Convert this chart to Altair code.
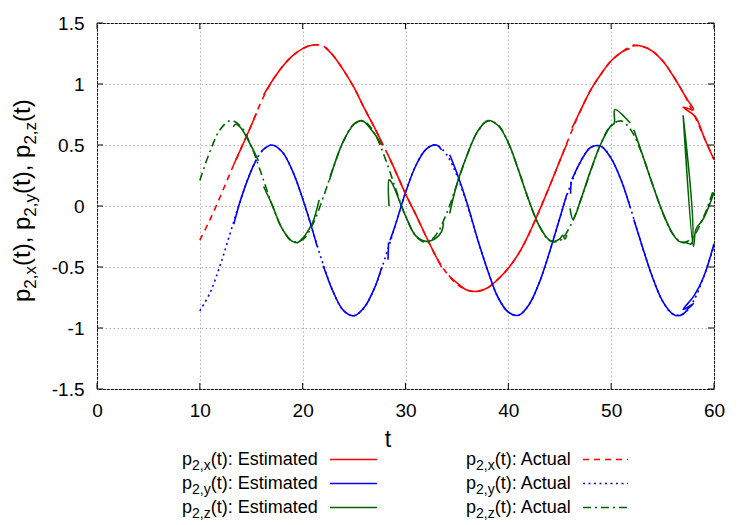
import altair as alt
import pandas as pd

# ---------------- data ----------------
t_actual = list(range(10, 61))
px_actual = [-0.28, -0.11, 0.08, 0.28, 0.47, 0.66, 0.86, 1.02, 1.14, 1.23,
             1.29, 1.32, 1.31, 1.23, 1.11, 0.97, 0.80, 0.64, 0.47, 0.29,
             0.10, -0.07, -0.25, -0.42, -0.55, -0.64, -0.69, -0.70, -0.67, -0.60,
             -0.51, -0.39, -0.23, -0.04, 0.16, 0.37, 0.58, 0.78, 0.95, 1.08,
             1.19, 1.26, 1.31, 1.31, 1.27, 1.19, 1.07, 0.93, 0.76, 0.57, 0.38]
py_actual = [-0.86, -0.71, -0.48, -0.21, 0.06, 0.29, 0.445, 0.50, 0.445, 0.29,
             0.06, -0.21, -0.48, -0.71, -0.86, -0.90, -0.83, -0.67, -0.43, -0.16,
             0.11, 0.33, 0.465, 0.50, 0.42, 0.25, 0.01, -0.27, -0.53, -0.75,
             -0.87, -0.895, -0.81, -0.63, -0.38, -0.10, 0.16, 0.36, 0.48, 0.49,
             0.39, 0.205, -0.05, -0.325, -0.58, -0.78, -0.886, -0.886, -0.78, -0.58, -0.325]
pz_actual = [0.21, 0.45, 0.63, 0.70, 0.65, 0.49, 0.26, 0.015, -0.185, -0.29,
             -0.276, -0.146, 0.07, 0.32, 0.536, 0.673, 0.693, 0.593, 0.396, 0.152,
             -0.08, -0.245, -0.30, -0.233, -0.06, 0.177, 0.42, 0.608, 0.697, 0.664,
             0.516, 0.293, 0.045, -0.163, -0.284, -0.285, -0.168, 0.04, 0.286, 0.511,
             0.661, 0.697, 0.612, 0.426, 0.184, -0.053, -0.229, -0.30, -0.248, -0.087, 0.144]

# estimated series (None = gap in the estimate)
t_est_x = [13.3, 14, 15, 15.5, None, 16.2, 17, 18, 19, 20, 21, 21.5, None,
           22.2, 23, 24, 25, 26, 27, 27.7, None, 28.3, 29, 30, 31, 32, 33, 33.5, None,
           34.2, 35, 36, 37, 38, 39, 40, 41, 42, 43, 44, 45, 45.7, None,
           46.2, 47, 48, 49, 50, 51, 51.8, None,
           52.1, 53, 54, 55, 56, 57, 57.5, 58.0, 57.0, 58.2, 59, 60]
px_est = [0.34, 0.47, 0.66, 0.76, None, 0.91, 1.02, 1.14, 1.23, 1.29, 1.32, 1.32, None,
          1.30, 1.23, 1.11, 0.97, 0.80, 0.64, 0.52, None, 0.42, 0.29, 0.10, -0.07, -0.25, -0.42, -0.50, None,
          -0.57, -0.63, -0.69, -0.70, -0.67, -0.60, -0.51, -0.39, -0.23, -0.04, 0.16, 0.37, 0.51, None,
          0.64, 0.78, 0.95, 1.08, 1.19, 1.26, 1.29, None,
          1.32, 1.31, 1.27, 1.19, 1.07, 0.93, 0.86, 0.79, 0.81, 0.73, 0.57, 0.38]

t_est_y = [13.3, 14, 15, 15.5, None, 16.0, 17, 18, 19, 20, 21, 21.4, None,
           22.0, 23, 24, 25, 26, 27, 27.7, None, 28.3, 28.35, None,
           28.5, 29, 30, 31, 32, 33, 33.5, None,
           34.3, 35, 36, 37, 38, 39, 40, 41, 42, 43, 44, 45, 45.7, None,
           46.05, 46.1, None, 46.2, 47, 48, 49, 50, 51, 51.85, None,
           52.2, 53, 54, 55, 56, 56.5, 57, 57.5, 58.0, 57.0, 58.1, 59, 60]
py_est = [-0.15, 0.06, 0.29, 0.38, None, 0.45, 0.50, 0.445, 0.29, 0.06, -0.21, -0.33, None,
          -0.49, -0.71, -0.86, -0.90, -0.83, -0.67, -0.50, None, -0.44, -0.30, None,
          -0.28, -0.16, 0.11, 0.33, 0.465, 0.50, 0.46, None,
          0.42, 0.27, 0.02, -0.27, -0.53, -0.75, -0.87, -0.895, -0.81, -0.63, -0.38, -0.10, 0.10, None,
          0.10, 0.20, None, 0.22, 0.36, 0.48, 0.49, 0.39, 0.205, -0.01, None,
          -0.11, -0.325, -0.58, -0.78, -0.886, -0.90, -0.885, -0.84, -0.80, -0.85, -0.73, -0.58, -0.31]

t_est_z = [13.25, 13.5, 14, 15, 15.7, None,
           16.2, 17, 18, 19, 19.5, 20, 20.4, 21.0, 21.6, None,
           22.6, 23, 24, 25, 25.7, 26, 27, 27.7, None,
           28.4, 28.4, 28.6, 29, 29.5, 30, 31, 32, 33, 33.5, 33.7, None,
           34.3, 35, 36, 37, 38, 39, 40, 41, 42, 43, 44, 44.5, 45, 45.3, 45.5, 45.7, None,
           46.0, 46.3, 47, 48, 49, 49.9, 50.3, 50.35, 51.85, None,
           52.2, 53, 54, 55, 56, 56.6, 57.3, 57.8, 57.0, 58.0, 58.25, 59, 60]
pz_est = [0.65, 0.67, 0.64, 0.49, 0.37, None,
          0.16, 0.015, -0.185, -0.29, -0.30, -0.265, -0.22, -0.13, 0.05, None,
          0.21, 0.32, 0.54, 0.67, 0.70, 0.69, 0.59, 0.50, None,
          0.0, 0.216, 0.20, 0.13, 0.02, -0.08, -0.245, -0.29, -0.26, -0.21, -0.14, None,
          -0.06, 0.18, 0.42, 0.61, 0.70, 0.66, 0.52, 0.29, 0.045, -0.16, -0.28, -0.29, -0.27, -0.24, -0.27, -0.24, None,
          -0.02, -0.11, 0.04, 0.29, 0.51, 0.65, 0.68, 0.79, 0.68, None,
          0.625, 0.43, 0.18, -0.05, -0.23, -0.29, -0.30, -0.31, 0.74, -0.33, -0.19, -0.10, 0.11]

x_ticks = [0, 10, 20, 30, 40, 50, 60]
y_ticks = [-1.5, -1, -0.5, 0, 0.5, 1, 1.5]
components = ["x", "y", "z"]
legend_kinds = ["Estimated", "Actual"]

# ---------------- styling / layout ----------------
FONT = "Liberation Sans"
RED, BLUE, GREEN = "#ff0000", "#0000ff", "#006400"
COLORS = [RED, BLUE, GREEN]
DASHES = [[6, 5], [2, 3.5], [8, 4, 2, 4]]
LW = 1.6
W, H = 617, 366
OX, OY = 97, 23          # page position of the plot origin

ARIAL = {" ": 278, "(": 333, ")": 333, ",": 278, ":": 278, "2": 556, "A": 667,
         "E": 667, "a": 556, "c": 500, "d": 556, "e": 556, "i": 222, "l": 222,
         "m": 833, "p": 556, "s": 500, "t": 278, "u": 556, "x": 500, "y": 500, "z": 500}


def tw(s, size):
    return sum(ARIAL.get(c, 556) for c in s) / 1000.0 * size


def est_frame(ts, vs):
    rows, seg, i = [], 0, 0
    for t, v in zip(ts, vs):
        if t is None or v is None:
            seg += 1
            continue
        rows.append({"t": t, "v": v, "seg": seg, "i": i})
        i += 1
    return pd.DataFrame(rows)


xs = alt.Scale(domain=[0, 60], nice=False, zero=False)
ys = alt.Scale(domain=[-1.5, 1.5], nice=False, zero=False)

x_axis = alt.Axis(values=x_ticks, labelExpr="datum.value + ''", labelFont=FONT,
                  labelFontSize=19, labelColor="black", labelPadding=12,
                  labelFlush=False, ticks=False, domain=False, grid=True,
                  gridColor="#b0b0b0", gridDash=[1.5, 2.5], gridWidth=1, title="")
y_axis = alt.Axis(values=y_ticks, labelExpr="datum.value + ''", labelFont=FONT,
                  labelFontSize=19, labelColor="black", labelPadding=13,
                  ticks=False, domain=False, grid=True,
                  gridColor="#b0b0b0", gridDash=[1.5, 2.5], gridWidth=1, title="")


def X(field):
    return alt.X(field, scale=xs, axis=x_axis)


def Y(field):
    return alt.Y(field, scale=ys, axis=y_axis)


layers = []

est_sets = [(t_est_x, px_est), (t_est_y, py_est), (t_est_z, pz_est)]
for (ts, vs), col in zip(est_sets, COLORS):
    layers.append(
        alt.Chart(est_frame(ts, vs)).mark_line(color=col, strokeWidth=LW, interpolate="catmull-rom").encode(
            x=X("t:Q"), y=Y("v:Q"), detail="seg:N", order=alt.Order("i:Q"))
    )

for vals, col, dash in zip([px_actual, py_actual, pz_actual], COLORS, DASHES):
    layers.append(
        alt.Chart(pd.DataFrame({"t": t_actual, "v": vals})).mark_line(
            color=col, strokeWidth=LW, strokeDash=dash, interpolate="catmull-rom").encode(
            x=X("t:Q"), y=Y("v:Q"))
    )

# inward tick marks on all four sides
TK = 6
xt = pd.DataFrame({"t": x_ticks})
yt = pd.DataFrame({"v": y_ticks})
layers.append(alt.Chart(xt).mark_rule(color="black", strokeWidth=1).encode(
    x=X("t:Q"), y=alt.value(H), y2=alt.value(H - TK)))
layers.append(alt.Chart(xt).mark_rule(color="black", strokeWidth=1).encode(
    x=X("t:Q"), y=alt.value(0), y2=alt.value(TK)))
layers.append(alt.Chart(yt).mark_rule(color="black", strokeWidth=1).encode(
    y=Y("v:Q"), x=alt.value(0), x2=alt.value(TK)))
layers.append(alt.Chart(yt).mark_rule(color="black", strokeWidth=1).encode(
    y=Y("v:Q"), x=alt.value(W), x2=alt.value(W - TK)))

one = pd.DataFrame({"d": [0]})


def text_piece(s, size, px, py, angle=0, align="left"):
    kw = dict(text=s, font=FONT, fontSize=size, align=align, baseline="alphabetic", color="black")
    if angle:
        kw["angle"] = angle
    return alt.Chart(one).mark_text(**kw).encode(x=alt.value(px - OX), y=alt.value(py - OY))


# x axis title
layers.append(text_piece("t", 23, 388, 447, align="center"))

# y axis title with subscripts, rotated
MAIN, SUB = 24, 17
base_x, y_cur = 30, 302
ytitle = []
for k, c in enumerate(components):
    ytitle.append(("p", MAIN, 0))
    ytitle.append(("2," + c, SUB, 6))
    ytitle.append(("(t), " if k < 2 else "(t)", MAIN, 0))
for s, size, shift in ytitle:
    layers.append(text_piece(s, size, base_x + shift, y_cur, angle=270))
    y_cur -= tw(s, size)

# legend
LMAIN, LSUB = 18, 14
col_x = [182, 466]
line_x = [(330, 377), (583, 628)]
for ci, kind in enumerate(legend_kinds):
    for ri, c in enumerate(components):
        yb = 465 + 24 * ri
        x0 = col_x[ci]
        layers.append(text_piece("p", LMAIN, x0, yb))
        x1 = x0 + tw("p", LMAIN)
        layers.append(text_piece("2," + c, LSUB, x1, yb + 5))
        x2 = x1 + tw("2," + c, LSUB)
        layers.append(text_piece("(t): " + kind, LMAIN, x2, yb))
        mk = dict(color=COLORS[ri], strokeWidth=LW)
        if ci == 1:
            mk["strokeDash"] = DASHES[ri]
        layers.append(alt.Chart(one).mark_rule(**mk).encode(
            x=alt.value(line_x[ci][0] - OX), x2=alt.value(line_x[ci][1] - OX),
            y=alt.value(yb - 5.5 - OY)))

chart = alt.layer(*layers).properties(
    width=W, height=H,
    autosize=alt.AutoSizeParams(type="none"),
    padding={"left": 89, "top": 15, "right": 28, "bottom": 133},
).configure_view(stroke="black", strokeWidth=1)

chart.save("out.html", embed_options={"renderer": "svg", "actions": False})
